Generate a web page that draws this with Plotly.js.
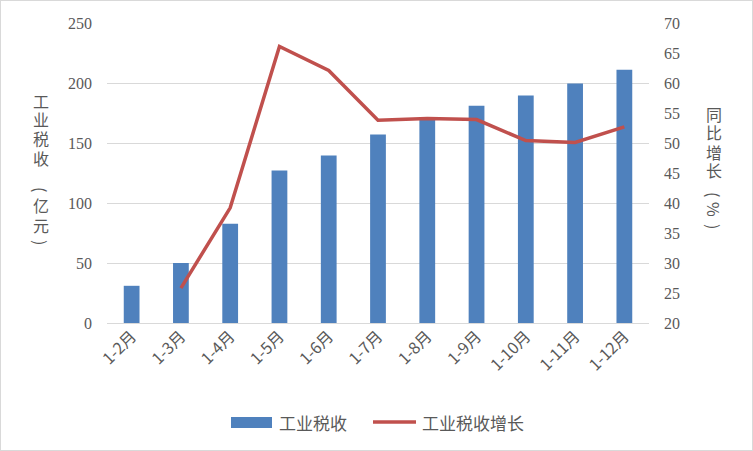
<!DOCTYPE html>
<html><head><meta charset="utf-8">
<script src="https://cdn.plot.ly/plotly-3.0.1.min.js"></script>
<style>body{margin:0;padding:0;background:#fff}#c{width:751px;height:449px;border:1px solid #d9d9d9}</style>
</head><body><div id="c"></div>
<script>
const categories = ['1-2月','1-3月','1-4月','1-5月','1-6月','1-7月','1-8月','1-9月','1-10月','1-11月','1-12月'];
const taxRevenue = [31, 50, 82.7, 127, 139.5, 157, 169.5, 181, 189.5, 199.5, 211];
const growthRate = [null, 25.8, 39.2, 66.1, 62.1, 53.8, 54.1, 53.9, 50.4, 50.1, 52.7];
const leftTicks = [0, 50, 100, 150, 200, 250];
const rightTicks = [20, 25, 30, 35, 40, 45, 50, 55, 60, 65, 70];
const seriesNames = ['工业税收', '工业税收增长'];
const leftTitle = ['工','业','税','收','(','亿','元',')'];
const rightTitle = ['同','比','增','长','(','%',')'];

const fontCol = '#595959';
const cjk = '"Noto Sans CJK SC", "Noto Sans", sans-serif';
const num = '"Liberation Serif", serif';

const traces = [
  {type:'bar', x:categories, y:taxRevenue, name:seriesNames[0], marker:{color:'#4f81bd'}, width:0.32, yaxis:'y'},
  {type:'scatter', mode:'lines', x:categories, y:growthRate, name:seriesNames[1], line:{color:'#c0504d', width:3.5}, yaxis:'y2', connectgaps:false}
];

const px = v => (v-106)/542, py = v => (322-v)/300;
const leftY = [100, 118, 137, 157, 188, 204, 224, 241];
const rightY = [113, 131, 151, 169, 193, 208, 225];
const rot = c => (c==='(' || c===')' || c==='%') ? 90 : 0;
const ann = [];
leftTitle.forEach((c,i)=>ann.push({xref:'paper', yref:'paper', x:px(40), y:py(leftY[i]), text:c, showarrow:false, textangle:rot(c), font:{family:cjk, size:16, color:fontCol}, xanchor:'center', yanchor:'middle'}));
rightTitle.forEach((c,i)=>ann.push({xref:'paper', yref:'paper', x:px(713), y:py(rightY[i]), text:c, showarrow:false, textangle:rot(c), font:{family:cjk, size:16, color:fontCol}, xanchor:'center', yanchor:'middle'}));
ann.push({xref:'paper', yref:'paper', x:px(276), y:py(421), text:seriesNames[0], showarrow:false, font:{family:cjk, size:17, color:fontCol}, xanchor:'left', yanchor:'middle'});
ann.push({xref:'paper', yref:'paper', x:px(419), y:py(421), text:seriesNames[1], showarrow:false, font:{family:cjk, size:17, color:fontCol}, xanchor:'left', yanchor:'middle'});

const layout = {
  width:751, height:449,
  margin:{l:106, r:103, t:22, b:127},
  paper_bgcolor:'#fff', plot_bgcolor:'#fff',
  showlegend:false,
  xaxis:{type:'category', tickangle:-45, tickfont:{family:cjk, size:16, color:fontCol}, showgrid:false, showline:false, ticks:'', zeroline:false},
  yaxis:{range:[0,250], tickvals:leftTicks, ticktext:leftTicks.map(String), tickfont:{family:num, size:16, color:fontCol}, gridcolor:'#d9d9d9', gridwidth:1, zeroline:true, zerolinecolor:'#d9d9d9', zerolinewidth:1, showline:false, ticks:'', ticklabelstandoff:14},
  yaxis2:{overlaying:'y', side:'right', range:[20,70], tickvals:rightTicks, ticktext:rightTicks.map(String), tickfont:{family:num, size:16, color:fontCol}, showgrid:false, zeroline:false, showline:false, ticks:'', ticklabelstandoff:14},
  annotations:ann,
  shapes:[
    {type:'rect', xref:'paper', yref:'paper', x0:px(230), x1:px(271), y0:py(416), y1:py(427), fillcolor:'#4f81bd', line:{width:0}},
    {type:'line', xref:'paper', yref:'paper', x0:px(372), x1:px(415), y0:py(421), y1:py(421), line:{color:'#c0504d', width:3.5}}
  ]
};
Plotly.newPlot('c', traces, layout, {staticPlot:true, displayModeBar:false});
</script></body></html>
